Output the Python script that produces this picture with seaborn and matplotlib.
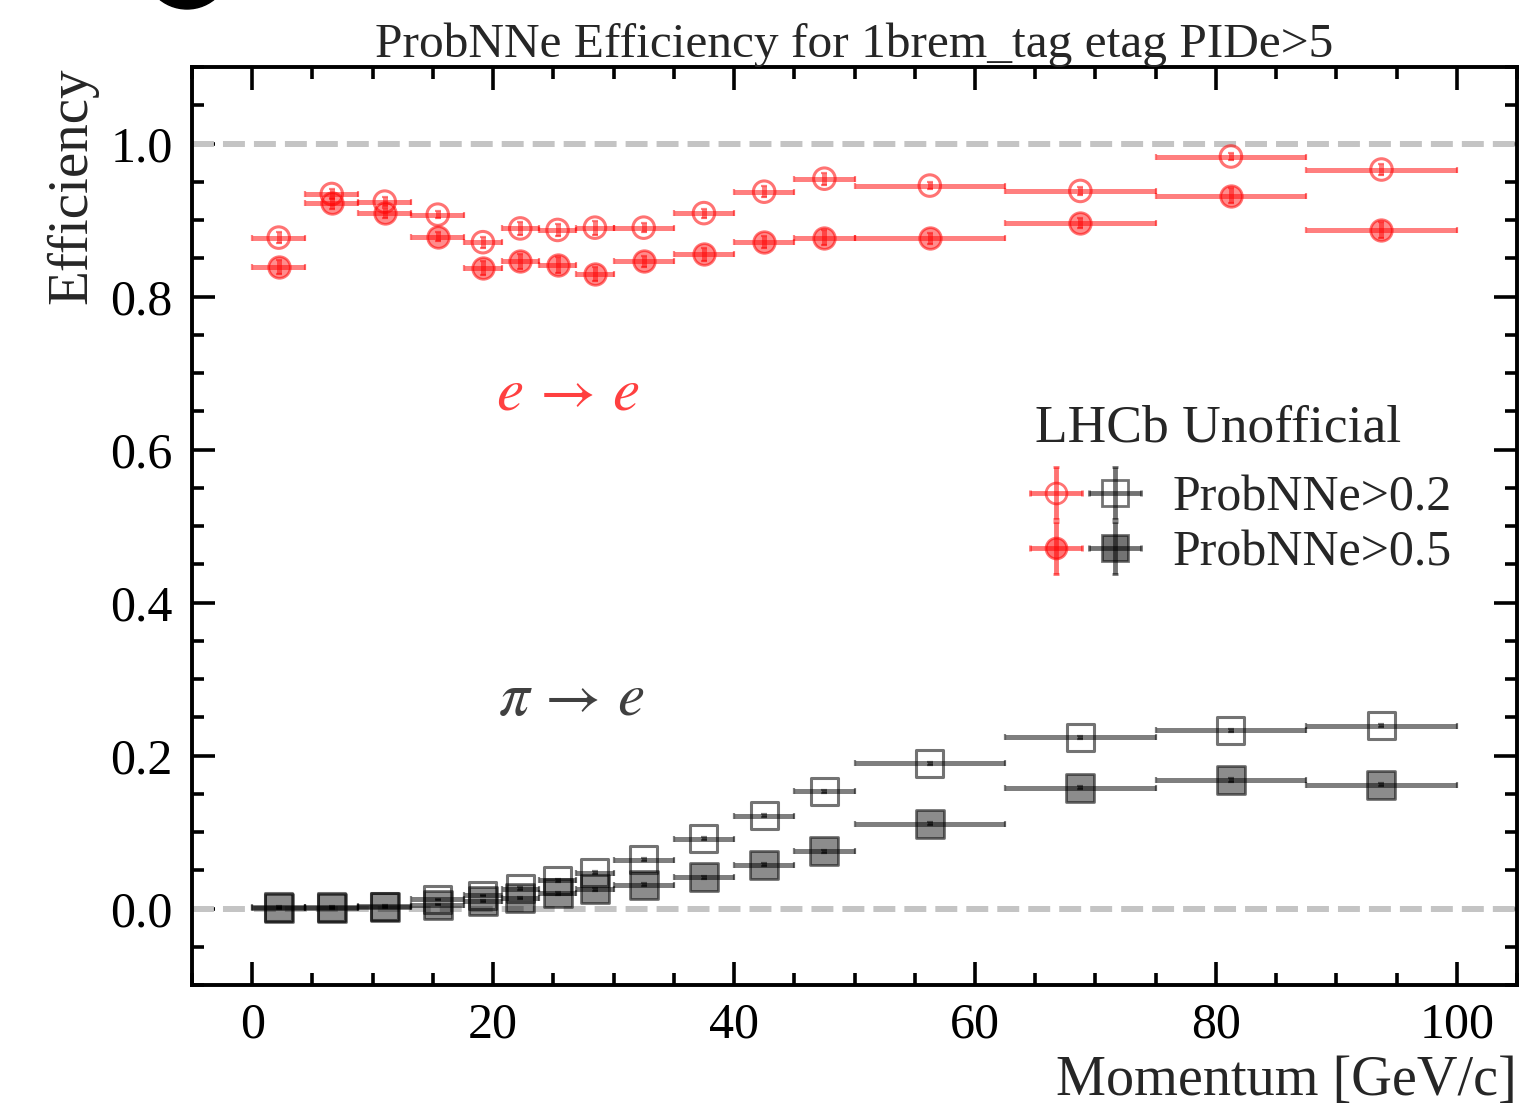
import numpy as np
import pandas as pd
import matplotlib
matplotlib.use("Agg")
import matplotlib.pyplot as plt
import seaborn as sns
from matplotlib.legend_handler import HandlerTuple, HandlerErrorbar
from matplotlib.container import ErrorbarContainer
from matplotlib.patches import Ellipse
from matplotlib.ticker import MultipleLocator

# Momentum binning [GeV/c]
bin_edges = [0.0, 4.4, 8.8, 13.2, 17.6, 20.7, 23.8, 26.9, 30.0,
             35.0, 40.0, 45.0, 50.0, 62.5, 75.0, 87.5, 100.0]

# e -> e efficiencies
eff_e_02 = [0.877, 0.934, 0.924, 0.907, 0.871, 0.889, 0.887, 0.890, 0.890,
            0.909, 0.937, 0.954, 0.945, 0.938, 0.983, 0.966]
err_e_02 = [0.007, 0.006, 0.006, 0.005, 0.007, 0.008, 0.008, 0.009, 0.006,
            0.006, 0.007, 0.008, 0.005, 0.005, 0.005, 0.007]
eff_e_05 = [0.839, 0.922, 0.909, 0.878, 0.837, 0.846, 0.841, 0.829, 0.846,
            0.855, 0.871, 0.877, 0.876, 0.896, 0.932, 0.887]
err_e_05 = [0.009, 0.007, 0.007, 0.006, 0.009, 0.010, 0.010, 0.009, 0.007,
            0.008, 0.008, 0.010, 0.007, 0.007, 0.010, 0.011]

# pi -> e mis-identification rates
eff_pi_02 = [0.002, 0.002, 0.003, 0.012, 0.017, 0.026, 0.037, 0.047, 0.064,
             0.091, 0.121, 0.153, 0.190, 0.224, 0.233, 0.239]
err_pi_02 = [0.001, 0.001, 0.001, 0.001, 0.001, 0.002, 0.002, 0.002, 0.002,
             0.002, 0.002, 0.002, 0.002, 0.002, 0.002, 0.002]
eff_pi_05 = [0.001, 0.001, 0.002, 0.005, 0.010, 0.014, 0.020, 0.025, 0.031,
             0.041, 0.057, 0.075, 0.111, 0.158, 0.168, 0.162]
err_pi_05 = [0.001, 0.001, 0.001, 0.001, 0.001, 0.001, 0.002, 0.002, 0.002,
             0.002, 0.002, 0.002, 0.002, 0.002, 0.002, 0.002]

cut_labels = ["ProbNNe>0.2", "ProbNNe>0.5"]
x_ticks = [0, 20, 40, 60, 80, 100]
y_ticks = [0.0, 0.2, 0.4, 0.6, 0.8, 1.0]

sns.set_theme(style="ticks")
plt.rcParams["font.family"] = ["Liberation Serif", "DejaVu Serif"]
plt.rcParams["mathtext.fontset"] = "stix"
plt.rcParams["lines.scale_dashes"] = False

edges = np.asarray(bin_edges)
centers = 0.5 * (edges[1:] + edges[:-1])
half_w = 0.5 * (edges[1:] - edges[:-1])

RED = (1.0, 0.0, 0.0)
BLK = (0.0, 0.0, 0.0)

fig = plt.figure(figsize=(15.21, 11.05), dpi=100)
ax = fig.add_axes([192 / 1521, 1 - 985 / 1105, 1325 / 1521, 918 / 1105])

# reference lines at 0 and 1
for yref in (0.0, 1.0):
    ax.axhline(yref, color="#c4c4c4", lw=4.3, dashes=(15.8, 6.5), zorder=1)

series = [
    (eff_e_02, err_e_02, RED, "o", False),
    (eff_e_05, err_e_05, RED, "o", True),
    (eff_pi_02, err_pi_02, BLK, "s", False),
    (eff_pi_05, err_pi_05, BLK, "s", True),
]

for eff, err, col, mk, filled in series:
    ax.errorbar(centers, eff, xerr=half_w, yerr=err, fmt="none",
                ecolor=col, elinewidth=3.6, capsize=2.5, capthick=1.6,
                alpha=0.5, zorder=2)
    df = pd.DataFrame({"p": centers, "eff": eff})
    size = 240 if mk == "o" else 380
    if filled:
        sns.scatterplot(data=df, x="p", y="eff", ax=ax, marker=mk, s=size,
                        facecolor=col + (0.45,), edgecolor=col + (0.55,),
                        linewidth=2.0, legend=False, zorder=3)
    else:
        sns.scatterplot(data=df, x="p", y="eff", ax=ax, marker=mk, s=size,
                        facecolor="none", edgecolor=col + (0.55,),
                        linewidth=2.2, legend=False, zorder=3)

ax.set_xlim(-5, 105)
ax.set_ylim(-0.1, 1.1)
ax.set_xticks(x_ticks)
ax.set_yticks(y_ticks)
ax.set_yticklabels([f"{v:.1f}" for v in y_ticks])
ax.xaxis.set_minor_locator(MultipleLocator(5))
ax.yaxis.set_minor_locator(MultipleLocator(0.05))
ax.tick_params(which="both", direction="in", top=True, right=True,
               width=2.6, colors="black")
ax.tick_params(which="major", length=16.5, labelsize=36)
ax.tick_params(which="minor", length=8.5)
ax.tick_params(axis="x", which="major", pad=12)
ax.tick_params(axis="y", which="major", pad=14)
for sp in ax.spines.values():
    sp.set_linewidth(2.8)
    sp.set_color("black")

ax.set_title("ProbNNe Efficiency for 1brem_tag etag PIDe>5", fontsize=35.6, pad=4)
ax.set_xlabel("Momentum [GeV/c]", fontsize=40.5, loc="right")
ax.xaxis.set_label_coords(1.0, -0.076)
ax.set_ylabel("Efficiency", fontsize=41, loc="top")
ax.yaxis.set_label_coords(-0.071, 1.0)

ax.text(20.2, 0.672, r"$e\,\rightarrow\,e$", color=(1.0, 0.25, 0.25),
        fontsize=44, va="center", ha="left")
ax.text(20.4, 0.272, r"$\pi\,\rightarrow\,e$", color="#404040",
        fontsize=44, va="center", ha="left")

ax.text(64.95, 0.627, "LHCb Unofficial", fontsize=38.5, va="center", ha="left")

# legend proxies
def proxy(col, mk, filled, ms):
    return ax.errorbar([np.nan], [np.nan], xerr=[1], yerr=[1], fmt=mk, ms=ms,
                       mfc=col if filled else "none", mec=col, mew=2.0,
                       ecolor=col, elinewidth=3.5, capsize=2.5, capthick=1.6,
                       alpha=0.55)

h_e02 = proxy(RED, "o", False, 15)
h_e05 = proxy(RED, "o", True, 15)
h_pi02 = proxy(BLK, "s", False, 19)
h_pi05 = proxy(BLK, "s", True, 19)

fs_leg = 36
leg = ax.legend(handles=[(h_e02, h_pi02), (h_e05, h_pi05)], labels=cut_labels,
                handler_map={tuple: HandlerTuple(ndivide=None, pad=0.16),
                             ErrorbarContainer: HandlerErrorbar(xerr_size=0.52)},
                fontsize=fs_leg, frameon=False, loc="upper left",
                bbox_to_anchor=((1030 - 192) / 1325, (985 - 475) / 918),
                handlelength=2.2, handletextpad=0.66,
                labelspacing=0.17, borderpad=0.0, borderaxespad=0.0)

# dark disc partly outside the top edge
fig.patches.append(Ellipse((187 / 1521, 1 + 34.5 / 1105), 87 / 1521, 87 / 1105,
                           transform=fig.transFigure, color="black",
                           clip_on=True, figure=fig))

fig.savefig("out.png", dpi=100)
